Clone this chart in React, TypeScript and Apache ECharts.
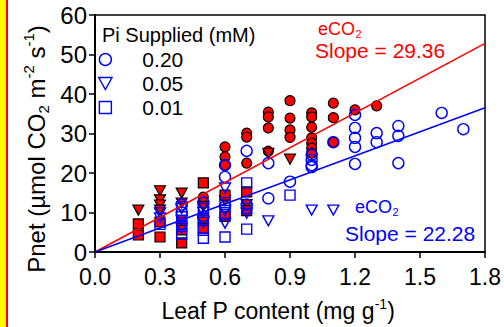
import React, { useEffect, useRef } from "react";
import * as echarts from "echarts";

// ---- data (x = leaf P content mg/g, y = Pnet) ----
const redCircles: [number, number][] = [
  [0.5, 13.9], [0.6, 26.6], [0.6, 24.1], [0.6, 22.0],
  [0.7, 30.1], [0.7, 29.1], [0.7, 22.5],
  [0.8, 35.4], [0.8, 34.2], [0.8, 31.4], [0.8, 25.5],
  [0.9, 38.3], [0.9, 33.9], [0.9, 30.9], [0.9, 29.0],
  [1.0, 35.2], [1.0, 34.2], [1.0, 31.6], [1.0, 28.9], [1.0, 27.6], [1.0, 26.3], [1.0, 25.0],
  [1.1, 37.7], [1.1, 34.0], [1.1, 27.8],
  [1.2, 36.0], [1.3, 37.0],
];
const redTriangles: [number, number][] = [
  [0.2, 10.6], [0.3, 15.5], [0.3, 13.2], [0.3, 11.9], [0.3, 10.6],
  [0.4, 14.9], [0.4, 12.4], [0.5, 11.5], [0.6, 13.0], [0.7, 12.0],
  [0.8, 25.0], [0.9, 23.5],
];
const redSquares: [number, number][] = [
  [0.2, 7.1], [0.2, 4.3], [0.3, 7.6], [0.3, 3.8],
  [0.4, 5.6], [0.4, 2.3], [0.4, 8.0],
  [0.5, 17.5], [0.5, 6.0], [0.5, 8.5],
  [0.6, 14.4], [0.6, 9.0], [0.7, 15.2], [0.7, 10.5],
];
const blueCircles: [number, number][] = [
  [0.4, 10.0], [0.4, 12.0], [0.5, 12.5], [0.5, 9.0],
  [0.6, 22.0], [0.6, 19.0], [0.6, 11.5], [0.7, 25.6], [0.7, 12.0],
  [0.8, 22.5], [0.8, 13.6], [0.9, 17.8],
  [1.0, 24.6], [1.0, 23.3], [1.0, 22.0], [1.0, 21.5], [1.1, 27.8],
  [1.2, 34.7], [1.2, 31.4], [1.2, 28.9], [1.2, 26.6], [1.2, 22.3],
  [1.3, 30.1], [1.3, 27.8], [1.4, 31.9], [1.4, 29.4], [1.4, 22.5],
  [1.6, 35.2], [1.7, 31.1],
];
const blueTriangles: [number, number][] = [
  [0.3, 9.9], [0.3, 8.6], [0.4, 11.0], [0.4, 8.0], [0.4, 6.0],
  [0.5, 10.0], [0.5, 7.5], [0.6, 16.2], [0.6, 7.3], [0.6, 10.5],
  [0.7, 9.8], [0.8, 7.9], [1.0, 10.6], [1.1, 10.6],
];
const blueSquares: [number, number][] = [
  [0.3, 7.0], [0.4, 4.5], [0.4, 6.5], [0.4, 9.0], [0.4, 11.5],
  [0.5, 3.5], [0.5, 5.5], [0.5, 8.0], [0.5, 11.0],
  [0.6, 3.8], [0.6, 9.5], [0.6, 12.5],
  [0.7, 17.5], [0.7, 5.8], [0.7, 11.0], [0.9, 14.4],
];
const redFit: [number, number][] = [[0, 0], [1.8, 52.8]];
const blueFit: [number, number][] = [[0, 0], [1.8, 36.5]];
const legendNames = ["0.20", "0.05", "0.01"];

const FONT = "Arial, 'Liberation Sans', sans-serif";
const RED = "#FF0000";
const BLUE = "#0000FF";
const DOWN_TRI = "path://M0,0L10,0L5,9Z";
const SQUARE = "path://M0,0L10,0L10,10L0,10Z";

export default function App() {
  const ref = useRef<HTMLDivElement>(null);
  useEffect(() => {
    if (!ref.current) return;
    const chart = echarts.init(ref.current, undefined, { renderer: "svg" });
    const redStyle = { color: RED, borderColor: "#000", borderWidth: 1.2, opacity: 1 };
    const blueStyle = { color: "rgba(255,255,255,0)", borderColor: BLUE, borderWidth: 1.4, opacity: 1 };
    const rich = (size: number, color: string, lh: number) => ({
      n: { fontSize: size, fontFamily: FONT, fill: color, color, lineHeight: lh },
      sub: { fontSize: Math.round(size * 0.62), fontFamily: FONT, fill: color, color, lineHeight: lh, verticalAlign: "bottom" },
      sup: { fontSize: Math.round(size * 0.62), fontFamily: FONT, fill: color, color, lineHeight: lh, verticalAlign: "top" },
    });
    const co2Label = (x: number, y: number, color: string) => ({
      type: "group",
      children: [
        { type: "text", x, y, style: { text: "eCO", fontSize: 18, lineHeight: 18, fontFamily: FONT, fill: color, align: "left", verticalAlign: "middle" } },
        { type: "text", x: x + 37.5, y: y + 5, style: { text: "2", fontSize: 11, lineHeight: 11, fontFamily: FONT, fill: color, align: "left", verticalAlign: "middle" } },
      ],
    });
    chart.setOption({
      animation: false,
      backgroundColor: "#fff",
      grid: { left: 95, right: 16, top: 15, bottom: 75, show: true, borderColor: "#000", borderWidth: 1.5, backgroundColor: "transparent" },
      xAxis: {
        type: "value", min: 0, max: 1.8, interval: 0.3,
        axisLine: { lineStyle: { color: "#000", width: 2 } },
        axisTick: { inside: false, length: 6, lineStyle: { color: "#000", width: 1.5 } },
        axisLabel: { color: "#000", fontSize: 23, fontFamily: FONT, margin: 13, formatter: (v: number) => v.toFixed(1) },
        splitLine: { show: false },
      },
      yAxis: {
        type: "value", min: 0, max: 60, interval: 10,
        axisLine: { lineStyle: { color: "#000", width: 2 } },
        axisTick: { inside: false, length: 6, lineStyle: { color: "#000", width: 1.5 } },
        axisLabel: { color: "#000", fontSize: 24, fontFamily: FONT, margin: 8 },
        splitLine: { show: false },
      },
      legend: {
        data: [
          { name: legendNames[0], icon: "circle" },
          { name: legendNames[1], icon: DOWN_TRI },
          { name: legendNames[2], icon: SQUARE },
        ],
        orient: "vertical",
        left: 93, top: 44,
        itemWidth: 50, itemHeight: 12, itemGap: 3,
        itemStyle: { color: "rgba(255,255,255,0)", borderColor: BLUE, borderWidth: 1.4 },
        textStyle: { fontSize: 21, fontFamily: FONT, color: "#000", lineHeight: 18, padding: [0, 0, 0, 7] },
      },
      series: [
        { name: "red 0.20", type: "scatter", data: redCircles, symbol: "circle", symbolSize: 10, itemStyle: redStyle },
        { name: "red 0.05", type: "scatter", data: redTriangles, symbol: DOWN_TRI, symbolSize: [11, 10], itemStyle: redStyle },
        { name: "red 0.01", type: "scatter", data: redSquares, symbol: SQUARE, symbolSize: 10, itemStyle: redStyle },
        { name: "0.20", type: "scatter", data: blueCircles, symbol: "circle", symbolSize: 11, itemStyle: blueStyle },
        { name: "0.05", type: "scatter", data: blueTriangles, symbol: DOWN_TRI, symbolSize: [11, 10], itemStyle: blueStyle },
        { name: "0.01", type: "scatter", data: blueSquares, symbol: SQUARE, symbolSize: 10, itemStyle: blueStyle },
        { name: "red fit", type: "line", data: redFit, showSymbol: false, lineStyle: { color: RED, width: 1.5 }, z: 5 },
        { name: "blue fit", type: "line", data: blueFit, showSymbol: false, lineStyle: { color: BLUE, width: 1.5 }, z: 5 },
      ],
      graphic: [
        { type: "rect", shape: { x: 0, y: 0, width: 6, height: 327 }, style: { fill: "#FFFF00" } },
        { type: "rect", shape: { x: 6, y: 0, width: 2, height: 327 }, style: { fill: "#FF0000" } },
        { type: "text", x: 102, y: 35, style: { text: "Pi Supplied (mM)", fontSize: 20, lineHeight: 18, fontFamily: FONT, fill: "#000", align: "left", verticalAlign: "middle" } },
        co2Label(318, 29, RED),
        { type: "text", x: 315, y: 50, style: { text: "Slope = 29.36", fontSize: 21, lineHeight: 19, fontFamily: FONT, fill: RED, align: "left", verticalAlign: "middle" } },
        co2Label(355, 207, BLUE),
        { type: "text", x: 345, y: 233, style: { text: "Slope = 22.28", fontSize: 21, lineHeight: 19, fontFamily: FONT, fill: BLUE, align: "left", verticalAlign: "middle" } },
        { type: "text", x: 278, y: 311, style: { text: "{n|Leaf P content (mg g}{sup|-1}{n|)}", rich: rich(23, "#000", 28), align: "center", verticalAlign: "middle" } },
        { type: "text", x: 36, y: 149, rotation: Math.PI / 2, style: { text: "{n|Pnet (µmol CO}{sub|2}{n| m}{sup|-2}{n| s}{sup|-1}{n|)}", rich: rich(24, "#000", 30), align: "center", verticalAlign: "middle" } },
      ],
    });
    return () => chart.dispose();
  }, []);
  return <div ref={ref} style={{ position: "fixed", left: 0, top: 0, width: 504, height: 327 }} />;
}
